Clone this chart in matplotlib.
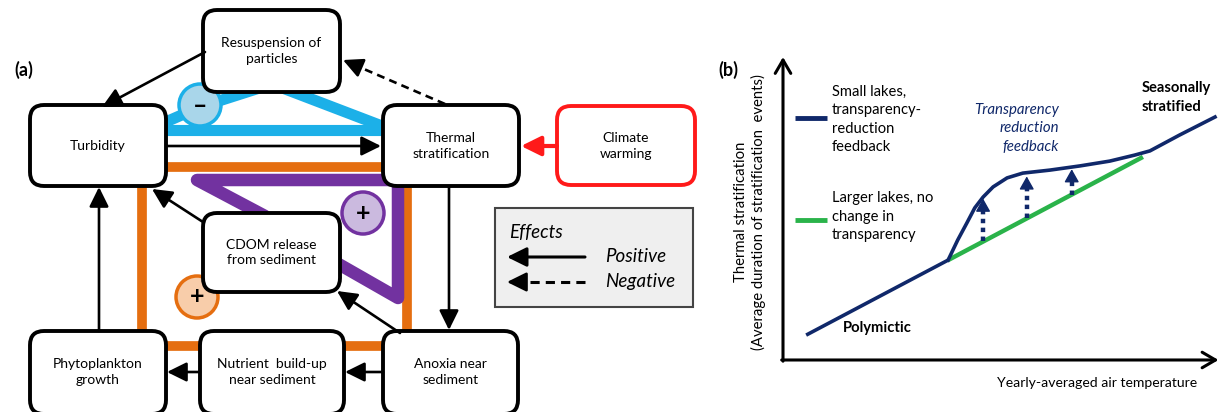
import numpy as np
import matplotlib
matplotlib.use("Agg")
import matplotlib.pyplot as plt
from matplotlib.patches import FancyBboxPatch, Circle

plt.rcParams["font.family"] = ["Lato", "DejaVu Sans"]

# ── Panel (a): feedback diagram, laid out in pixel units ─────────────────────

box_labels = [
    "Resuspension of\nparticles", "Turbidity", "Thermal\nstratification",
    "Climate\nwarming", "CDOM release\nfrom sediment", "Phytoplankton\ngrowth",
    "Nutrient  build-up\nnear sediment", "Anoxia near\nsediment",
]
box_x0 = [203, 30, 383, 557, 203, 30, 200, 383]
box_x1 = [340, 166, 519, 695, 340, 166, 344, 518]
box_y0 = [10, 105, 105, 106, 213, 331, 331, 331]
box_y1 = [92, 186, 186, 185, 292, 414, 414, 414]
box_edge = ["k", "k", "k", "#ff1a1a", "k", "k", "k", "k"]

# arrows: start point, tip, dashed or not
arrow_start = [(205, 52), (445, 104), (167, 146), (557, 146), (449, 187),
               (383, 372), (200, 372), (99, 331), (203, 222), (400, 333)]
arrow_tip = [(102, 107), (343, 60), (381, 146), (521, 146), (449, 330),
             (345, 372), (167, 372), (99, 187), (152, 189), (337, 291)]
arrow_dashed = [False, True, False, False, False, False, False, False, False, False]
arrow_color = ["k", "k", "k", "#ff1a1a", "k", "k", "k", "k", "k", "k"]

# feedback loops
cyan_loop_x = [[166, 382], [168, 200, 272, 382]]
cyan_loop_y = [[130, 130], [121, 107, 84, 126]]
orange_loop_x = [142, 407, 407, 142, 142]
orange_loop_y = [167, 167, 346, 346, 167]
purple_loop_x = [265, 197, 398, 398, 335]
purple_loop_y = [216, 180, 180, 298, 262]

loop_signs = ["\u2013", "+", "+"]
sign_x = [200, 197, 363]
sign_y = [105, 297, 213]
sign_edge = ["#1cb0e8", "#e56e10", "#7232a0"]
sign_fill = ["#a9d6ea", "#f8cdaa", "#cbbadf"]

CYAN, ORANGE, PURPLE = "#1cb0e8", "#e56e10", "#7232a0"
NAVY, GREEN = "#10286a", "#2ab34a"


def draw_arrow(ax, start, tip, color="k", lw=1.9, ls="-", head_len=0.85,
               head_wid=0.42, scale=14, head_lw=1.9, zorder=4):
    """Filled-head arrow; a dashed/dotted shaft is drawn apart from the head."""
    style = f"-|>,head_length={head_len},head_width={head_wid}"
    if ls == "-":
        ax.annotate("", xy=tip, xytext=start,
                    arrowprops=dict(arrowstyle=style, mutation_scale=scale, lw=lw,
                                    color=color, shrinkA=0, shrinkB=0),
                    zorder=zorder)
        return
    s = np.array(start, float)
    t = np.array(tip, float)
    # stop the shaft where the head begins
    p_s = ax.transData.transform(s)
    p_t = ax.transData.transform(t)
    d = p_t - p_s
    n = np.hypot(*d)
    head_px = head_len * scale * 100 / 72
    p_mid = p_t - d / n * head_px * 0.9
    p_pre = p_t - d / n * head_px * 1.1
    mid = ax.transData.inverted().transform(p_mid)
    pre = ax.transData.inverted().transform(p_pre)
    ax.plot([s[0], mid[0]], [s[1], mid[1]], color=color, lw=lw, ls=ls,
            dash_capstyle="butt", zorder=zorder)
    ax.annotate("", xy=tip, xytext=tuple(pre),
                arrowprops=dict(arrowstyle=style, mutation_scale=scale, lw=head_lw,
                                color=color, shrinkA=0, shrinkB=0),
                zorder=zorder)


fig = plt.figure(figsize=(12.22, 4.12), dpi=100, facecolor="white")
ax = fig.add_axes([0, 0, 1, 1])
ax.set_xlim(0, 1222)
ax.set_ylim(412, 0)
ax.axis("off")

for xs, ys in zip(cyan_loop_x, cyan_loop_y):
    ax.plot(xs, ys, color=CYAN, lw=8, solid_joinstyle="round", zorder=1)
ax.plot(orange_loop_x, orange_loop_y, color=ORANGE, lw=7,
        solid_joinstyle="miter", zorder=1)
ax.plot(purple_loop_x, purple_loop_y, color=PURPLE, lw=9,
        solid_joinstyle="round", solid_capstyle="round", zorder=1.5)

for s, cx, cy, ec, fc in zip(loop_signs, sign_x, sign_y, sign_edge, sign_fill):
    ax.add_patch(Circle((cx, cy), 21, facecolor=fc, edgecolor=ec, lw=2.5, zorder=2))
    ax.text(cx, cy, s, ha="center", va="center", fontsize=18,
            fontweight="bold", color="k", zorder=2.5)

for lab, x0, x1, y0, y1, ec in zip(box_labels, box_x0, box_x1, box_y0, box_y1, box_edge):
    ax.add_patch(FancyBboxPatch((x0, y0), x1 - x0, y1 - y0,
                                boxstyle="round,pad=0,rounding_size=14",
                                facecolor="white", edgecolor=ec, lw=2.8, zorder=3))
    cy = (y0 + min(y1, 413)) / 2
    ax.text((x0 + x1) / 2, cy, lab, ha="center", va="center",
            fontsize=10, linespacing=1.4, zorder=3.5)

for st, tp, dashed, c in zip(arrow_start, arrow_tip, arrow_dashed, arrow_color):
    draw_arrow(ax, st, tp, color=c, lw=3 if c != "k" else 1.9,
               ls=(0, (3, 2)) if dashed else "-")

ax.text(24, 70, "(a)", ha="center", va="center", fontsize=13, fontweight="bold")

# legend for arrow types
ax.add_patch(plt.Rectangle((495, 208), 198, 99, facecolor="#efefef",
                           edgecolor="#444444", lw=1.5, zorder=3))
ax.text(509, 232, "Effects", fontsize=13.5, style="italic", va="center", zorder=4)
legend_kinds = ["Positive", "Negative"]
legend_y = [257, 282]
for lab, ly, dashed in zip(legend_kinds, legend_y, [False, True]):
    draw_arrow(ax, (585, ly), (507, ly), lw=2.2, ls=(0, (3, 2)) if dashed else "-")
    ax.text(605, ly, lab, fontsize=13.5, style="italic", va="center", zorder=4)

ax.text(728, 70, "(b)", ha="center", va="center", fontsize=13, fontweight="bold")

# ── Panel (b): stratification vs air temperature ────────────────────────────

base_T = [0.53, 3.78]
base_S = [0.83, 3.33]
large_T = [3.78, 8.24]
large_S = [3.33, 6.77]
small_T = [3.78, 4.00, 4.21, 4.39, 4.58, 4.81, 5.13, 5.49, 6.11, 6.80,
           7.48, 8.05, 8.40, 9.08, 9.89]
small_S = [3.33, 4.00, 4.57, 5.07, 5.43, 5.77, 6.07, 6.23, 6.33, 6.47,
           6.63, 6.83, 6.97, 7.50, 8.10]

shift_T = [4.58, 5.58, 6.61]
shift_from = [3.95, 4.72, 5.51]
shift_to = [5.38, 6.12, 6.36]

axb = fig.add_axes([783 / 1222, 50 / 412, 439 / 1222, 307 / 412])
axb.set_xlim(0, 10.05)
axb.set_ylim(-0.067, 10.167)
axb.axis("off")

axis_arrow = dict(arrowstyle="->,head_length=0.6,head_width=0.35",
                  mutation_scale=16, lw=2.2, color="k", shrinkA=0, shrinkB=0)
axb.annotate("", xy=(0, 10.1), xytext=(0, -0.04), arrowprops=axis_arrow)
axb.annotate("", xy=(9.97, 0), xytext=(-0.03, 0), arrowprops=axis_arrow)

axb.plot(base_T, base_S, color=NAVY, lw=2.6, solid_capstyle="butt", zorder=3)
axb.plot(large_T, large_S, color=GREEN, lw=3.2, solid_capstyle="butt", zorder=2)
axb.plot(small_T, small_S, color=NAVY, lw=2.6, zorder=3)

for t, s0, s1 in zip(shift_T, shift_from, shift_to):
    draw_arrow(axb, (t, s0), (t, s1), color=NAVY, lw=3.2, ls=(0, (1, 1)),
               head_len=0.8, head_wid=0.45, scale=10, head_lw=1.0)

# legend lines
axb.plot([0.27, 1.01], [8.07, 8.07], color=NAVY, lw=3.5, solid_capstyle="butt")
axb.plot([0.27, 1.01], [4.67, 4.67], color=GREEN, lw=3.5, solid_capstyle="butt")
axb.text(1.12, 8.02, "Small lakes,\ntransparency-\nreduction\nfeedback",
         fontsize=10.6, va="center", ha="left", linespacing=1.42)
axb.text(1.12, 4.78, "Larger lakes, no\nchange in\ntransparency",
         fontsize=10.6, va="center", ha="left", linespacing=1.42)

axb.text(6.32, 7.72, "Transparency\nreduction\nfeedback", fontsize=10.8,
         style="italic", color=NAVY, ha="right", va="center", linespacing=1.42)
axb.text(8.22, 8.75, "Seasonally\nstratified", fontsize=10.6, fontweight="bold",
         ha="left", va="center", linespacing=1.42)
axb.text(1.37, 1.07, "Polymictic", fontsize=10.6, fontweight="bold",
         ha="left", va="center")

axb.text(9.49, -0.77, "Yearly-averaged air temperature", fontsize=10.1,
         ha="right", va="center", clip_on=False)
axb.text(-0.76, 4.93,
         "Thermal stratification\n(Average duration of stratification  events)",
         fontsize=10.7, rotation=90, ha="center", va="center",
         linespacing=1.25, clip_on=False)

fig.savefig("out.png", dpi=100, facecolor="white")
